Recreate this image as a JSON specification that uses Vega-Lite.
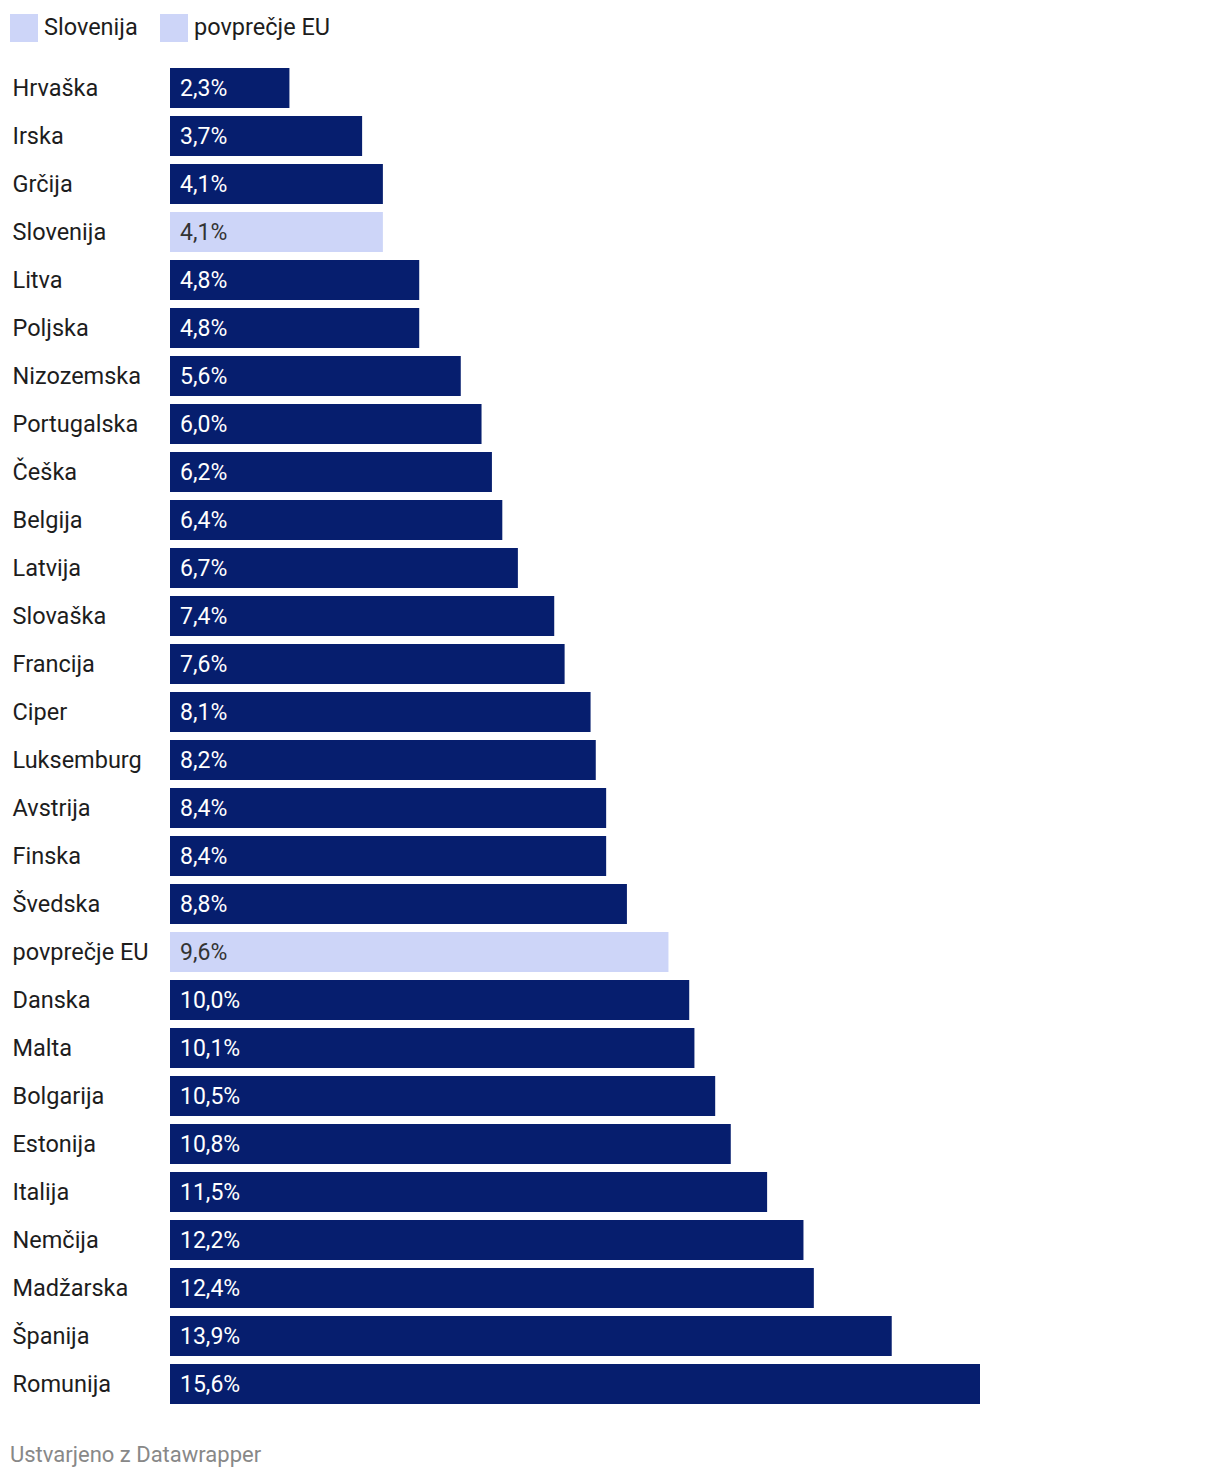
{
  "$schema": "https://vega.github.io/schema/vega-lite/v6.json",
  "autosize": {"type": "none"},
  "width": 810,
  "height": 1344,
  "padding": {"left": 170, "top": 64, "right": 240, "bottom": 74},
  "background": "#ffffff",
  "config": {
    "view": {"stroke": null},
    "font": "Roboto"
  },
  "title": {
    "text": "Ustvarjeno z Datawrapper",
    "orient": "bottom",
    "anchor": "start",
    "frame": "group",
    "dx": -160,
    "offset": 37,
    "fontSize": 22,
    "fontWeight": "normal",
    "color": "#888888",
    "font": "Roboto"
  },
  "data": {
    "values": [
      {"country": "Hrvaška", "value": 2.3, "label": "2,3%", "group": "ostalo"},
      {"country": "Irska", "value": 3.7, "label": "3,7%", "group": "ostalo"},
      {"country": "Grčija", "value": 4.1, "label": "4,1%", "group": "ostalo"},
      {"country": "Slovenija", "value": 4.1, "label": "4,1%", "group": "Slovenija"},
      {"country": "Litva", "value": 4.8, "label": "4,8%", "group": "ostalo"},
      {"country": "Poljska", "value": 4.8, "label": "4,8%", "group": "ostalo"},
      {"country": "Nizozemska", "value": 5.6, "label": "5,6%", "group": "ostalo"},
      {"country": "Portugalska", "value": 6.0, "label": "6,0%", "group": "ostalo"},
      {"country": "Češka", "value": 6.2, "label": "6,2%", "group": "ostalo"},
      {"country": "Belgija", "value": 6.4, "label": "6,4%", "group": "ostalo"},
      {"country": "Latvija", "value": 6.7, "label": "6,7%", "group": "ostalo"},
      {"country": "Slovaška", "value": 7.4, "label": "7,4%", "group": "ostalo"},
      {"country": "Francija", "value": 7.6, "label": "7,6%", "group": "ostalo"},
      {"country": "Ciper", "value": 8.1, "label": "8,1%", "group": "ostalo"},
      {"country": "Luksemburg", "value": 8.2, "label": "8,2%", "group": "ostalo"},
      {"country": "Avstrija", "value": 8.4, "label": "8,4%", "group": "ostalo"},
      {"country": "Finska", "value": 8.4, "label": "8,4%", "group": "ostalo"},
      {"country": "Švedska", "value": 8.8, "label": "8,8%", "group": "ostalo"},
      {"country": "povprečje EU", "value": 9.6, "label": "9,6%", "group": "povprečje EU"},
      {"country": "Danska", "value": 10.0, "label": "10,0%", "group": "ostalo"},
      {"country": "Malta", "value": 10.1, "label": "10,1%", "group": "ostalo"},
      {"country": "Bolgarija", "value": 10.5, "label": "10,5%", "group": "ostalo"},
      {"country": "Estonija", "value": 10.8, "label": "10,8%", "group": "ostalo"},
      {"country": "Italija", "value": 11.5, "label": "11,5%", "group": "ostalo"},
      {"country": "Nemčija", "value": 12.2, "label": "12,2%", "group": "ostalo"},
      {"country": "Madžarska", "value": 12.4, "label": "12,4%", "group": "ostalo"},
      {"country": "Španija", "value": 13.9, "label": "13,9%", "group": "ostalo"},
      {"country": "Romunija", "value": 15.6, "label": "15,6%", "group": "ostalo"}
    ]
  },
  "encoding": {
    "y": {
      "field": "country",
      "type": "nominal",
      "sort": null,
      "scale": {"paddingInner": 0.16667, "paddingOuter": 0.08333},
      "axis": {
        "title": null,
        "domain": false,
        "ticks": false,
        "tickSize": 0,
        "labelAlign": "left",
        "labelPadding": 158,
        "labelOffset": 1,
        "labelFontSize": 23.5,
        "labelFont": "Roboto",
        "labelColor": "#1d1d1d",
        "labelLimit": 200
      }
    }
  },
  "layer": [
    {
      "mark": {"type": "bar"},
      "encoding": {
        "x": {
          "field": "value",
          "type": "quantitative",
          "scale": {"domain": [0, 15.6], "nice": false},
          "axis": null
        },
        "color": {
          "field": "group",
          "type": "nominal",
          "scale": {
            "domain": ["Slovenija", "povprečje EU", "ostalo"],
            "range": ["#cdd5f8", "#cdd5f8", "#061e6e"]
          },
          "legend": {
            "values": ["Slovenija", "povprečje EU"],
            "title": null,
            "orient": "none",
            "direction": "horizontal",
            "legendX": -160,
            "legendY": -50,
            "symbolType": "square",
            "symbolSize": 784,
            "symbolStrokeWidth": 0,
            "symbolOpacity": 1,
            "labelFontSize": 23.5,
            "labelFont": "Roboto",
            "labelColor": "#1d1d1d",
            "labelOffset": 6,
            "columnPadding": 22,
            "padding": 0
          }
        }
      }
    },
    {
      "mark": {"type": "text", "align": "left", "baseline": "middle", "dx": 10, "dy": 1, "fontSize": 23, "font": "Roboto"},
      "encoding": {
        "x": {"datum": 0, "type": "quantitative"},
        "text": {"field": "label"},
        "color": {
          "condition": {"test": "datum.group !== 'ostalo'", "value": "#333333"},
          "value": "#ffffff"
        }
      }
    }
  ]
}
